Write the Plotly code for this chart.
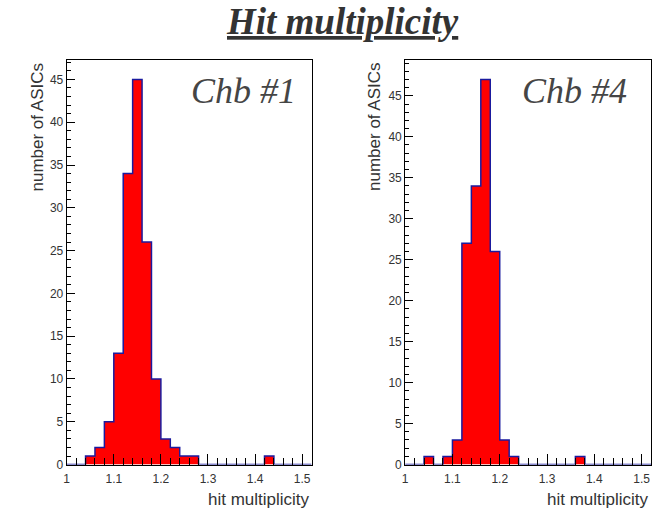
import plotly.graph_objects as go

# Bin edges: 1.00 .. 1.52 in steps of 0.02 (26 bins)
bin_edges = [round(1.0 + 0.02 * i, 2) for i in range(27)]

# Chamber #1 counts per bin
counts_chb1 = [0, 0, 1, 2, 5, 13, 34, 45, 26, 10, 3, 2, 1, 1,
               0, 0, 0, 0, 0, 0, 0, 1, 0, 0, 0, 0]
# Chamber #4 counts per bin
counts_chb4 = [0, 0, 1, 0, 1, 3, 27, 34, 47, 26, 3, 1, 0, 0,
               0, 0, 0, 0, 1, 0, 0, 0, 0, 0, 0, 0]

x_ticks = [1.0, 1.1, 1.2, 1.3, 1.4, 1.5]
x_tick_labels = ["1", "1.1", "1.2", "1.3", "1.4", "1.5"]
y_ticks = [0, 5, 10, 15, 20, 25, 30, 35, 40, 45]

labels = ["Chb #1", "Chb #4"]
title_text = "Hit multiplicity"
x_title = "hit multiplicity"
y_title = "number of ASICs"

W, H = 658, 514
FILL = "#ff0000"
EDGE = "#1a1a9e"
TXT = "#333333"

fig = go.Figure()


def step_xy(counts):
    xs = list(bin_edges)
    ys = list(counts) + [counts[-1]]
    return xs, ys


for i, counts in enumerate([counts_chb1, counts_chb4]):
    xs, ys = step_xy(counts)
    ax = "" if i == 0 else "2"
    fig.add_trace(go.Scatter(
        x=xs, y=ys, mode="lines", line=dict(shape="hv", color=EDGE, width=1.5),
        fill="tozeroy", fillcolor=FILL, xaxis="x" + ax, yaxis="y" + ax,
        showlegend=False, hoverinfo="skip",
    ))

ymax = [max(counts_chb1) * 1.05, max(counts_chb4) * 1.05]
xdoms = [[64 / W, 310 / W], [404 / W, 651 / W]]
ydom = [1 - 471 / H, 1 - 61 / H]

axis_common = dict(
    showgrid=False, zeroline=False, showline=True, linecolor="black",
    linewidth=1, mirror=True, ticks="inside", tickcolor="black",
    layer="above traces",
    tickfont=dict(family="Liberation Sans, Arial, sans-serif", size=12, color=TXT),
)

layout = dict(
    width=W, height=H, margin=dict(l=0, r=0, t=0, b=0),
    paper_bgcolor="white", plot_bgcolor="white",
)
for i in range(2):
    ax = "" if i == 0 else "2"
    layout["xaxis" + ax] = dict(
        axis_common, domain=xdoms[i], range=[1.0, 1.52], anchor="y" + ax,
        tickvals=x_ticks, ticktext=x_tick_labels, ticklen=11,
        ticklabelstandoff=3,
        minor=dict(dtick=0.02, tick0=1.0, ticks="inside", ticklen=7, tickcolor="black"),
    )
    layout["yaxis" + ax] = dict(
        axis_common, domain=ydom, range=[0, ymax[i]], anchor="x" + ax,
        tickvals=y_ticks, ticklen=8,
        minor=dict(dtick=1, ticks="inside", ticklen=4, tickcolor="black"),
    )
fig.update_layout(**layout)

annotations = [
    dict(text="<b><i><u>" + title_text + "</u></i></b>", x=341 / W, y=1 - 22 / H,
         xref="paper", yref="paper", xanchor="center", yanchor="middle",
         showarrow=False,
         font=dict(family="Liberation Serif, Times New Roman, serif", size=37, color=TXT)),
]
lab_pos = [(296, 92), (629, 92)]
ytitle_x = [35, 373]
xtitle_right = [309, 650]
for i in range(2):
    annotations.append(dict(
        text="<i>" + labels[i] + "</i>", x=lab_pos[i][0] / W, y=1 - lab_pos[i][1] / H,
        xref="paper", yref="paper", xanchor="right", yanchor="middle", showarrow=False,
        font=dict(family="Liberation Serif, Times New Roman, serif", size=36, color="#454545")))
    annotations.append(dict(
        text=y_title, textangle=-90, x=ytitle_x[i] / W, y=1 - 61 / H,
        xref="paper", yref="paper", xanchor="center", yanchor="top", showarrow=False,
        font=dict(family="Liberation Sans, Arial, sans-serif", size=17, color=TXT)))
    annotations.append(dict(
        text=x_title, x=xtitle_right[i] / W, y=0, yshift=-3, borderpad=0,
        xref="paper", yref="paper", xanchor="right", yanchor="bottom", showarrow=False,
        font=dict(family="Liberation Sans, Arial, sans-serif", size=17, color=TXT)))
fig.update_layout(annotations=annotations)

fig.write_html("out.html")
